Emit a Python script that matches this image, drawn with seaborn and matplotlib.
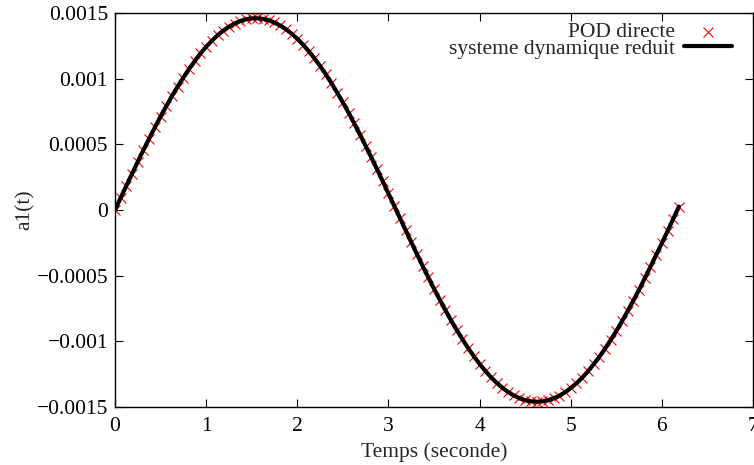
import numpy as np
import pandas as pd
import matplotlib
matplotlib.use('Agg')
import matplotlib.pyplot as plt
import seaborn as sns
from matplotlib.ticker import FuncFormatter

# sample times (seconde)
temps = [
    0.0, 0.0625, 0.125, 0.1875, 0.25, 0.3125, 0.375, 0.4375, 0.5, 0.5625,
    0.625, 0.6875, 0.75, 0.8125, 0.875, 0.9375, 1.0, 1.0625, 1.125, 1.1875,
    1.25, 1.3125, 1.375, 1.4375, 1.5, 1.5625, 1.625, 1.6875, 1.75, 1.8125,
    1.875, 1.9375, 2.0, 2.0625, 2.125, 2.1875, 2.25, 2.3125, 2.375, 2.4375,
    2.5, 2.5625, 2.625, 2.6875, 2.75, 2.8125, 2.875, 2.9375, 3.0, 3.0625,
    3.125, 3.1875, 3.25, 3.3125, 3.375, 3.4375, 3.5, 3.5625, 3.625, 3.6875,
    3.75, 3.8125, 3.875, 3.9375, 4.0, 4.0625, 4.125, 4.1875, 4.25, 4.3125,
    4.375, 4.4375, 4.5, 4.5625, 4.625, 4.6875, 4.75, 4.8125, 4.875, 4.9375,
    5.0, 5.0625, 5.125, 5.1875, 5.25, 5.3125, 5.375, 5.4375, 5.5, 5.5625,
    5.625, 5.6875, 5.75, 5.8125, 5.875, 5.9375, 6.0, 6.0625, 6.125, 6.1875,
]

# a1(t), in units of 1e-6
a1_micro = [
    0, 93, 185, 277, 368, 457, 544, 629, 712, 791,
    868, 940, 1009, 1074, 1134, 1192, 1243, 1289, 1330, 1366,
    1396, 1420, 1439, 1452, 1459, 1460, 1455, 1444, 1428, 1405,
    1377, 1343, 1304, 1260, 1210, 1156, 1097, 1034, 966, 894,
    819, 741, 659, 575, 488, 400, 310, 219, 126, 33,
    -59, -152, -244, -335, -425, -513, -599, -682, -763, -841,
    -915, -985, -1052, -1114, -1172, -1225, -1273, -1316, -1353, -1386,
    -1412, -1433, -1448, -1457, -1460, -1457, -1449, -1434, -1414, -1388,
    -1356, -1319, -1277, -1229, -1176, -1119, -1057, -991, -921, -847,
    -769, -689, -606, -520, -432, -342, -252, -160, -67, 26,
]

xticks = [0, 1, 2, 3, 4, 5, 6, 7]
yticks = [-0.0015, -0.001, -0.0005, 0, 0.0005, 0.001, 0.0015]

df = pd.DataFrame({'t': temps, 'a1': np.array(a1_micro) * 1e-6})

sns.set_style('ticks')
plt.rcParams['font.family'] = ['Liberation Serif', 'DejaVu Serif']
plt.rcParams['font.size'] = 15.5
plt.rcParams['xtick.direction'] = 'in'
plt.rcParams['ytick.direction'] = 'in'

fig = plt.figure(figsize=(7.54, 4.65), dpi=100)
ax = fig.add_axes([0.1525, 0.1247, 0.8462, 0.8473])

sns.scatterplot(data=df, x='t', y='a1', marker='x', color='red', s=52,
                linewidth=0.8, label='POD directe', ax=ax, zorder=2)
sns.lineplot(data=df, x='t', y='a1', color='black', linewidth=3,
             label='systeme dynamique reduit', ax=ax, zorder=3)

ax.set_xlim(0, 7)
ax.set_ylim(-0.0015, 0.0015)
ax.set_xticks(xticks)
ax.set_yticks(yticks)
ax.yaxis.set_major_formatter(FuncFormatter(lambda v, p: ('%g' % v).replace('-', '\u2212')))
ax.tick_params(which='both', top=True, right=True, length=6, width=0.8,
               colors='black', labelsize=15.5)
ax.tick_params(axis='x', pad=7)
ax.tick_params(axis='y', pad=5)
for s in ax.spines.values():
    s.set_color('black')
    s.set_linewidth(1.0)

ax.set_xlabel('Temps (seconde)', labelpad=5)
ax.set_ylabel('a1(t)', labelpad=1)

leg = ax.legend(loc='upper right', bbox_to_anchor=(0.970, 0.982),
                frameon=False, markerfirst=False,
                fontsize=15.5, handlelength=2.2, handletextpad=0.45,
                labelspacing=-0.18, borderaxespad=0, borderpad=0.1)
for txt in leg.get_texts():
    txt.set_ha('right')
leg._legend_box.align = 'right'

fig.savefig('out.png', dpi=100)
